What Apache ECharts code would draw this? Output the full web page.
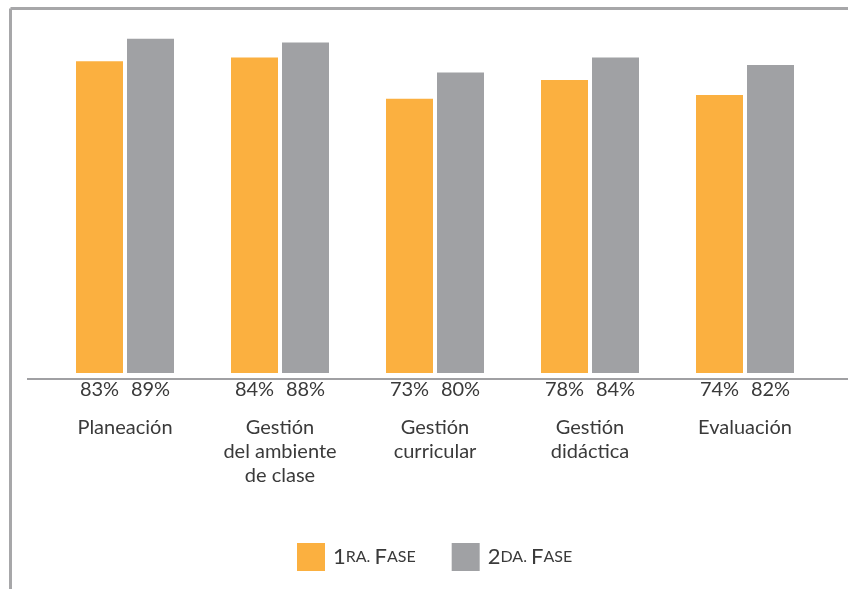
<!DOCTYPE html>
<html>
<head>
<meta charset="utf-8">
<script src="https://cdn.jsdelivr.net/npm/echarts@6/dist/echarts.min.js"></script>
<style>html,body{margin:0;padding:0;background:#fff}#c{width:848px;height:589px}</style>
</head>
<body>
<div id="c"></div>
<script>
var categories = ['Planeación', 'Gestión\ndel ambiente\nde clase', 'Gestión\ncurricular', 'Gestión\ndidáctica', 'Evaluación'];
var fase1 = [83, 84, 73, 78, 74];
var fase2 = [89, 88, 80, 84, 82];
var seriesNames = ['1ra. Fase', '2da. Fase'];

var FONT = 'Lato';
var TXT = '#3a3a3a';
var chart = echarts.init(document.getElementById('c'));
var lbl = {show: true, position: 'bottom', distance: 7, formatter: '{c}%', color: TXT, fontFamily: FONT, fontSize: 20};
chart.setOption({
  animation: false,
  grid: {left: 47.5, width: 775, top: 8, bottom: 216},
  xAxis: {
    type: 'category', data: categories,
    axisLine: {show: false}, axisTick: {show: false},
    axisLabel: {margin: 43, color: TXT, fontFamily: FONT, fontSize: 20, lineHeight: 24, interval: 0}
  },
  yAxis: {type: 'value', min: 0, max: 97.2, show: false},
  legend: {
    bottom: 13, left: 292, itemWidth: 28, itemHeight: 28, itemGap: 36, icon: 'rect',
    textStyle: {color: TXT, fontFamily: FONT, padding: [0, 0, 0, 3], rich: {a: {fontSize: 22, fontFamily: FONT, color: TXT}, b: {fontSize: 16, fontFamily: FONT, color: TXT}}},
    formatter: function (n) {
      return n === seriesNames[0] ? '{a|1}{b|RA. }{a|F}{b|ASE}' : '{a|2}{b|DA. }{a|F}{b|ASE}';
    }
  },
  graphic: [
    {type: 'line', shape: {x1: 10.5, y1: 8.5, x2: 848, y2: 8.5}, style: {stroke: '#a7a7a9', lineWidth: 3}},
    {type: 'line', shape: {x1: 10.5, y1: 8.5, x2: 10.5, y2: 589}, style: {stroke: '#a7a7a9', lineWidth: 3}},
    {type: 'line', shape: {x1: 27, y1: 379, x2: 848, y2: 379}, style: {stroke: '#a0a0a3', lineWidth: 2}}
  ],
  series: [
    {name: seriesNames[0], type: 'bar', data: fase1, barWidth: 47, barGap: '8.5%', itemStyle: {color: '#FBB040'}, label: lbl},
    {name: seriesNames[1], type: 'bar', data: fase2, barWidth: 47, itemStyle: {color: '#A0A1A4'}, label: lbl}
  ]
});
</script>
</body>
</html>
